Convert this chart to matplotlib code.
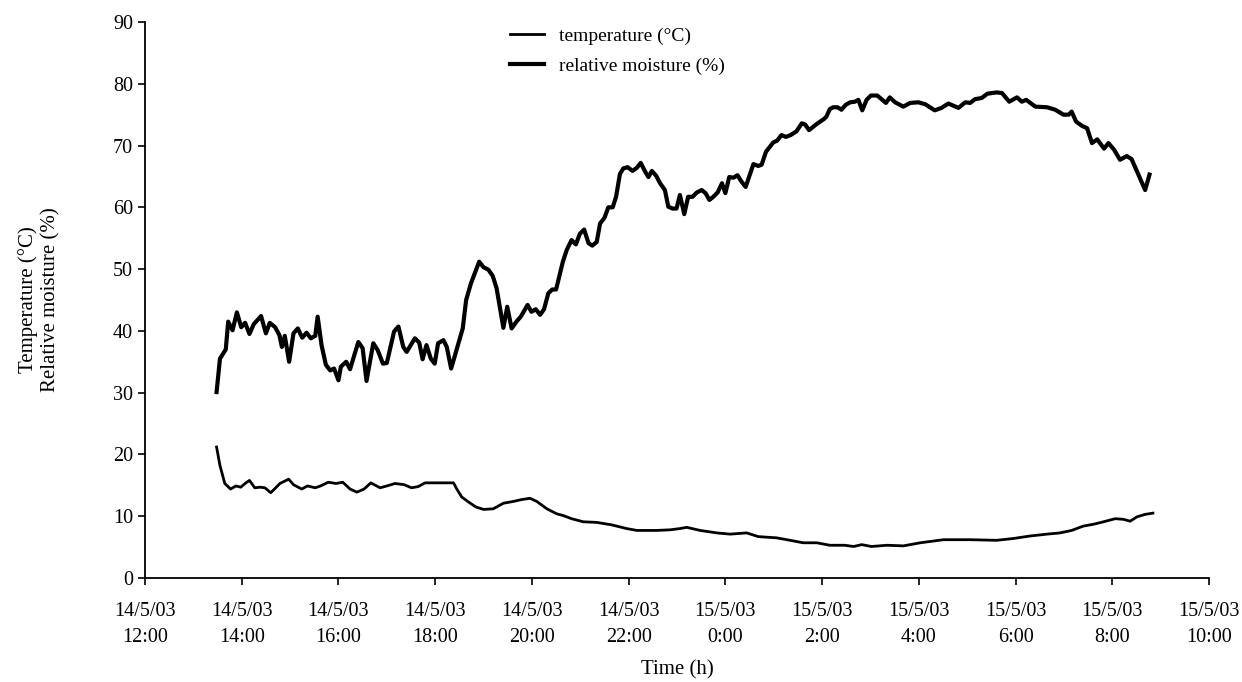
import matplotlib

matplotlib.use("Agg")
import matplotlib.pyplot as plt

plt.rcParams["font.family"] = ["Liberation Serif", "DejaVu Serif"]

# ---- Data (hours after 14/5/03 12:00) ----
rh_time = [
    1.48, 1.55, 1.67, 1.72, 1.81, 1.90, 1.99, 2.07, 2.16, 2.25, 2.40, 2.50,
    2.58, 2.69, 2.78, 2.83, 2.89, 2.98, 3.07, 3.16, 3.25, 3.34, 3.43, 3.52,
    3.57, 3.65, 3.74, 3.83, 3.91, 4.00, 4.05, 4.16, 4.24, 4.41, 4.50, 4.58,
    4.72, 4.81, 4.92, 5.00, 5.15, 5.24, 5.34, 5.41, 5.58, 5.67, 5.74, 5.82,
    5.91, 5.99, 6.06, 6.17, 6.24, 6.33, 6.57, 6.64, 6.74, 6.91, 7.00, 7.10,
    7.19, 7.27, 7.41, 7.49, 7.58, 7.69, 7.77, 7.91, 7.99, 8.08, 8.17, 8.25,
    8.34, 8.42, 8.50, 8.64, 8.72, 8.82, 8.91, 8.99, 9.08, 9.17, 9.25, 9.34,
    9.41, 9.50, 9.58, 9.67, 9.74, 9.82, 9.89, 9.98, 10.08, 10.17, 10.25, 10.34,
    10.41, 10.48, 10.57, 10.65, 10.75, 10.82, 10.91, 10.99, 11.06, 11.15, 11.23, 11.32,
    11.41, 11.51, 11.59, 11.67, 11.75, 11.84, 11.93, 12.00, 12.08, 12.17, 12.25, 12.33,
    12.42, 12.58, 12.68, 12.75, 12.84, 12.92, 12.99, 13.07, 13.16, 13.25, 13.35, 13.47,
    13.58, 13.65, 13.73, 13.89, 14.04, 14.09, 14.16, 14.23, 14.32, 14.40, 14.49, 14.58,
    14.68, 14.75, 14.83, 14.92, 15.01, 15.14, 15.23, 15.32, 15.40, 15.51, 15.68, 15.82,
    15.99, 16.13, 16.33, 16.47, 16.61, 16.82, 16.96, 17.06, 17.16, 17.30, 17.42, 17.61,
    17.72, 17.87, 18.03, 18.13, 18.22, 18.41, 18.65, 18.82, 18.99, 19.10, 19.16, 19.25,
    19.37, 19.48, 19.58, 19.69, 19.83, 19.92, 20.04, 20.16, 20.30, 20.40, 20.68, 20.77,
]
rh_values = [
    30.1, 35.5, 37.0, 41.5, 40.1, 43.0, 40.6, 41.3, 39.5, 41.1, 42.4, 39.6,
    41.3, 40.6, 39.3, 37.4, 39.2, 35.0, 39.6, 40.4, 38.9, 39.7, 38.8, 39.2,
    42.3, 37.7, 34.5, 33.6, 33.9, 32.0, 34.2, 35.0, 33.8, 38.2, 37.2, 31.9,
    38.0, 36.9, 34.7, 34.8, 39.9, 40.7, 37.4, 36.6, 38.8, 38.1, 35.4, 37.7,
    35.5, 34.7, 38.0, 38.5, 37.4, 33.9, 40.4, 45.0, 47.7, 51.2, 50.3, 49.9,
    48.9, 46.9, 40.5, 43.9, 40.4, 41.6, 42.3, 44.2, 43.1, 43.5, 42.6, 43.5,
    46.1, 46.7, 46.7, 51.2, 53.1, 54.7, 54.0, 55.7, 56.4, 54.2, 53.8, 54.4,
    57.4, 58.3, 60.0, 60.0, 61.7, 65.4, 66.3, 66.5, 65.9, 66.4, 67.2, 65.8,
    64.9, 65.9, 65.1, 63.9, 62.8, 60.1, 59.8, 59.8, 62.0, 58.9, 61.7, 61.7,
    62.4, 62.8, 62.3, 61.2, 61.7, 62.4, 63.9, 62.3, 64.9, 64.8, 65.2, 64.2,
    63.3, 67.0, 66.7, 66.9, 69.0, 69.8, 70.5, 70.8, 71.7, 71.4, 71.7, 72.3,
    73.6, 73.4, 72.5, 73.5, 74.3, 74.7, 75.9, 76.2, 76.2, 75.8, 76.6, 77.0,
    77.1, 77.4, 75.7, 77.4, 78.1, 78.1, 77.5, 76.9, 77.8, 77.0, 76.3, 76.9,
    77.0, 76.7, 75.7, 76.1, 76.8, 76.1, 77.0, 76.9, 77.5, 77.7, 78.4, 78.6,
    78.5, 77.1, 77.8, 77.1, 77.4, 76.3, 76.2, 75.8, 75.0, 75.0, 75.5, 73.9,
    73.2, 72.8, 70.4, 71.0, 69.5, 70.4, 69.3, 67.7, 68.3, 67.8, 62.8, 65.3,
]

temp_time = [
    1.48, 1.55, 1.65, 1.77, 1.88, 1.98, 2.07, 2.16, 2.27, 2.38, 2.48, 2.60,
    2.69, 2.79, 2.97, 3.07, 3.24, 3.36, 3.52, 3.63, 3.79, 3.95, 4.09, 4.24,
    4.38, 4.53, 4.67, 4.86, 5.00, 5.17, 5.36, 5.51, 5.65, 5.79, 5.96, 6.17,
    6.38, 6.44, 6.55, 6.69, 6.84, 7.00, 7.20, 7.41, 7.62, 7.79, 7.96, 8.10,
    8.31, 8.51, 8.65, 8.82, 9.06, 9.34, 9.65, 9.96, 10.17, 10.37, 10.58, 10.86,
    11.06, 11.20, 11.48, 11.82, 12.10, 12.44, 12.68, 13.06, 13.27, 13.61, 13.89, 14.16,
    14.47, 14.65, 14.82, 15.02, 15.34, 15.68, 16.03, 16.51, 17.06, 17.61, 17.96, 18.30,
    18.65, 18.92, 19.16, 19.40, 19.61, 19.82, 20.06, 20.23, 20.37, 20.51, 20.68, 20.84,
]
temp_values = [
    21.2, 18.2, 15.3, 14.4, 14.9, 14.7, 15.3, 15.8, 14.6, 14.7, 14.6, 13.8,
    14.5, 15.3, 16.0, 15.1, 14.4, 14.9, 14.6, 14.9, 15.5, 15.3, 15.5, 14.4,
    13.9, 14.4, 15.4, 14.6, 14.9, 15.3, 15.1, 14.6, 14.8, 15.4, 15.4, 15.4,
    15.4, 14.5, 13.1, 12.3, 11.5, 11.1, 11.2, 12.1, 12.4, 12.7, 12.9, 12.4,
    11.2, 10.4, 10.1, 9.6, 9.1, 9.0, 8.6, 8.0, 7.7, 7.7, 7.7, 7.8,
    8.0, 8.2, 7.7, 7.3, 7.1, 7.3, 6.7, 6.5, 6.2, 5.7, 5.7, 5.3,
    5.3, 5.1, 5.4, 5.1, 5.3, 5.2, 5.7, 6.2, 6.2, 6.1, 6.4, 6.8,
    7.1, 7.3, 7.7, 8.4, 8.7, 9.1, 9.6, 9.5, 9.2, 9.9, 10.3, 10.5,
]

tick_hours = [0, 2, 4, 6, 8, 10, 12, 14, 16, 18, 20, 22]
tick_labels = [
    "14/5/03\n12:00", "14/5/03\n14:00", "14/5/03\n16:00", "14/5/03\n18:00",
    "14/5/03\n20:00", "14/5/03\n22:00", "15/5/03\n0:00", "15/5/03\n2:00",
    "15/5/03\n4:00", "15/5/03\n6:00", "15/5/03\n8:00", "15/5/03\n10:00",
]
y_ticks = [0, 10, 20, 30, 40, 50, 60, 70, 80, 90]

W_PX, H_PX = 1242, 682
DPI = 100

fig = plt.figure(figsize=(W_PX / DPI, H_PX / DPI), dpi=DPI, facecolor="white")
ax = fig.add_axes([145 / W_PX, 1 - 578 / H_PX, 1064 / W_PX, 556 / H_PX])

ax.plot(temp_time, temp_values, color="black", lw=2.0,
        solid_joinstyle="round", label="temperature (\u00b0C)")
ax.plot(rh_time, rh_values, color="black", lw=3.0,
        solid_joinstyle="round", label="relative moisture (%)")

ax.set_xlim(0, 22)
ax.set_ylim(0, 90)
ax.set_xticks(tick_hours)
ax.set_xticklabels(tick_labels, linespacing=1.5)
ax.set_yticks(y_ticks)

for side in ("top", "right"):
    ax.spines[side].set_visible(False)
for side in ("left", "bottom"):
    ax.spines[side].set_linewidth(1.3)

ax.tick_params(axis="both", direction="out", length=5, width=1.2,
               labelsize=14.5, colors="black")
ax.tick_params(axis="x", pad=12)

ax.set_xlabel("Time (h)", fontsize=15, labelpad=10)
ax.set_ylabel("Temperature (\u00b0C)\nRelative moisture (%)", fontsize=15,
              labelpad=38, linespacing=1.2)

ax.legend(loc="upper left", bbox_to_anchor=((502 - 145) / 1064, 1.005),
          frameon=False, fontsize=14, handlelength=1.75,
          handletextpad=0.8, labelspacing=0.65, borderaxespad=0.0)

fig.savefig("out.png", dpi=DPI, facecolor="white")
plt.close(fig)
